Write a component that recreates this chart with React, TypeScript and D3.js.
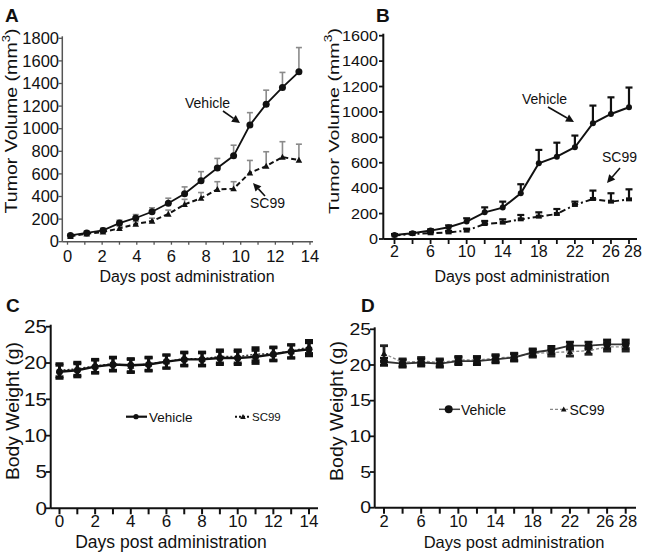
import React from "react";
import * as d3 from "d3";

// ---------- DATA ----------
// Panel A: tumor volume (mm^3), days 0-14
const daysA = [0.17, 1.11, 2.05, 3.0, 3.94, 4.88, 5.82, 6.76, 7.71, 8.65, 9.59, 10.53, 11.47, 12.41, 13.36];
const vehicleA = [55, 78, 100, 165, 210, 265, 340, 425, 540, 652, 760, 1032, 1217, 1365, 1503];
const vehicleAErr = [15, 18, 20, 25, 30, 35, 45, 60, 80, 85, 94, 110, 124, 133, 215];
const sc99A = [48, 70, 86, 118, 156, 183, 245, 330, 385, 463, 469, 610, 669, 749, 722];
const sc99AErr = [10, 12, 15, 20, 22, 25, 35, 45, 50, 68, 62, 109, 127, 136, 141];
const xTicksA = [0, 2, 4, 6, 8, 10, 12, 14];
const yTicksA = [0, 200, 400, 600, 800, 1000, 1200, 1400, 1600, 1800];

// Panel B: tumor volume (mm^3), days 2-28
const daysB = [2, 4, 6, 8, 10, 12, 14, 16, 18, 20, 22, 24, 26, 28];
const vehicleB = [31, 45, 66, 92, 137, 210, 247, 360, 596, 648, 722, 911, 984, 1037];
const vehicleBErr = [8, 8, 10, 15, 26, 39, 47, 71, 105, 110, 92, 139, 131, 155];
const sc99B = [28, 40, 45, 52, 66, 118, 129, 155, 176, 197, 268, 315, 294, 312];
const sc99BErr = [8, 8, 10, 12, 15, 24, 26, 34, 34, 39, 26, 66, 66, 79];
const xTicksB = [2, 6, 10, 14, 18, 22, 26, 28];
const xMinorB = [2, 4, 6, 8, 10, 12, 14, 16, 18, 20, 22, 24, 26, 28];
const yTicksB = [0, 200, 400, 600, 800, 1000, 1200, 1400, 1600];

// Panel C: body weight (g), days 0-14
const daysC = [0, 1, 2, 3, 4, 5, 6, 7, 8, 9, 10, 11, 12, 13, 14];
const vehicleC = [18.8, 19.0, 19.5, 19.8, 19.7, 19.8, 20.2, 20.5, 20.5, 20.7, 20.7, 20.85, 21.2, 21.6, 21.9];
const vehicleCErr = [0.9, 0.9, 0.9, 0.9, 0.9, 0.9, 0.9, 0.9, 0.9, 0.9, 0.9, 0.9, 0.9, 0.9, 0.9];
const sc99C = [19.0, 19.2, 19.6, 19.9, 19.6, 19.9, 20.2, 20.6, 20.6, 20.9, 20.9, 21.2, 21.3, 21.6, 22.2];
const sc99CErr = [0.9, 0.9, 0.9, 0.9, 0.9, 0.9, 0.9, 0.9, 0.9, 0.9, 0.9, 0.9, 0.9, 0.9, 0.9];
const xTicksC = [0, 2, 4, 6, 8, 10, 12, 14];
const yTicksW = [0, 5, 10, 15, 20, 25];

// Panel D: body weight (g), days 2-28
const daysD = [2, 4, 6, 8, 10, 12, 14, 16, 18, 20, 22, 24, 26, 28];
const vehicleD = [20.45, 20.2, 20.35, 20.2, 20.55, 20.55, 20.8, 21.05, 21.75, 22.1, 22.7, 22.7, 22.9, 22.9];
const vehicleDErr = [0.5, 0.5, 0.5, 0.5, 0.5, 0.5, 0.5, 0.5, 0.5, 0.5, 0.5, 0.5, 0.6, 0.6];
const sc99D = [21.6, 20.35, 20.55, 20.35, 20.7, 20.7, 20.95, 21.15, 21.6, 21.75, 21.85, 22.0, 22.55, 22.55];
const sc99DErr = [1.1, 0.5, 0.5, 0.5, 0.5, 0.5, 0.5, 0.5, 0.5, 0.5, 0.6, 0.5, 0.6, 0.6];
const xTicksD = [2, 6, 10, 14, 18, 22, 26, 28];

const FONT = "'Liberation Sans', Arial, Helvetica, sans-serif";

// ---------- SCALES ----------
const xA = d3.scaleLinear().domain([0, 14]).range([67.5, 310]);
const yA = d3.scaleLinear().domain([0, 1800]).range([241.7, 38.3]);
const xB = d3.scaleLinear().domain([2, 28]).range([394.5, 629]);
const yB = d3.scaleLinear().domain([0, 1600]).range([239, 35.7]);
const xC = d3.scaleLinear().domain([0, 14]).range([59.5, 309]);
const yC = d3.scaleLinear().domain([0, 25]).range([508.3, 326.7]);
const xD = d3.scaleLinear().domain([2, 28]).range([384, 625.7]);
const yD = d3.scaleLinear().domain([0, 25]).range([507.7, 329.3]);

type Sc = d3.ScaleLinear<number, number>;

function linePath(xs: number[], ys: number[], x: Sc, y: Sc) {
  const gen = d3.line<number>().x((_, i) => x(xs[i])).y((d) => y(d));
  return gen(ys) || "";
}

function tri(cx: number, cy: number, s: number) {
  return `M${cx},${cy - s}L${cx + s},${cy + s * 0.8}L${cx - s},${cy + s * 0.8}Z`;
}

function ErrBars(props: {
  xs: number[]; ys: number[]; err: number[]; x: Sc; y: Sc; color: string; w: number; cap: number; both?: boolean;
}) {
  const { xs, ys, err, x, y, color, w, cap, both } = props;
  return (
    <g stroke={color} strokeWidth={w} fill="none">
      {ys.map((v, i) => {
        const cx = x(xs[i]);
        const top = y(v + err[i]);
        const bot = both ? y(v - err[i]) : y(v);
        return (
          <g key={i}>
            <line x1={cx} x2={cx} y1={top} y2={bot} />
            <line x1={cx - cap} x2={cx + cap} y1={top} y2={top} />
            {both ? <line x1={cx - cap} x2={cx + cap} y1={bot} y2={bot} /> : null}
          </g>
        );
      })}
    </g>
  );
}

function Arrow(props: { x1: number; y1: number; x2: number; y2: number }) {
  const { x1, y1, x2, y2 } = props;
  const ang = Math.atan2(y2 - y1, x2 - x1);
  const L = 8, W = 4;
  const bx = x2 - L * Math.cos(ang), by = y2 - L * Math.sin(ang);
  const p1 = [bx + W * Math.sin(ang), by - W * Math.cos(ang)];
  const p2 = [bx - W * Math.sin(ang), by + W * Math.cos(ang)];
  return (
    <g>
      <line x1={x1} y1={y1} x2={bx} y2={by} stroke="#111" strokeWidth={1.6} />
      <path d={`M${x2},${y2}L${p1[0]},${p1[1]}L${p2[0]},${p2[1]}Z`} fill="#111" />
    </g>
  );
}

export default function App() {
  return (
    <svg
      width={648}
      height={559}
      viewBox="0 0 648 559"
      style={{ position: "absolute", left: 0, top: 0, background: "#fff" }}
      fontFamily={FONT}
    >
      <rect x={0} y={0} width={648} height={559} fill="#fff" />

      {/* ================= PANEL A ================= */}
      <g>
        <text x={5} y={22} fontSize={19} fontWeight="bold" fill="#111">A</text>
        <line x1={62.3} x2={62.3} y1={yA(1800) - 2} y2={yA(0)} stroke="#555" strokeWidth={1.5} />
        <line x1={62.3} x2={313} y1={yA(0)} y2={yA(0)} stroke="#555" strokeWidth={1.5} />
        {yTicksA.map((t) => (
          <g key={t}>
            <line x1={58.5} x2={62.3} y1={yA(t)} y2={yA(t)} stroke="#555" strokeWidth={1.3} />
            <text x={59} y={yA(t)} dy="0.35em" textAnchor="end" fontSize={16.5} fill="#111">{t}</text>
          </g>
        ))}
        {d3.range(0, 15).map((t) => (
          <line key={t} x1={xA(t)} x2={xA(t)} y1={yA(0)} y2={yA(0) + 3} stroke="#555" strokeWidth={1.3} />
        ))}
        {xTicksA.map((t) => (
          <text key={t} x={xA(t)} y={262} textAnchor="middle" fontSize={16.5} fill="#111">{t}</text>
        ))}
        <text x={187} y={281.5} textAnchor="middle" fontSize={16} fill="#111">Days post administration</text>
        <text
          transform={`translate(17,${121}) rotate(-90)`}
          textAnchor="middle"
          fontSize={16.5}
          fill="#111"
          textLength={185}
          lengthAdjust="spacingAndGlyphs"
        >
          Tumor Volume (mm<tspan fontSize={11} dy={-7}>3</tspan><tspan dy={7}>)</tspan>
        </text>

        <ErrBars xs={daysA} ys={vehicleA} err={vehicleAErr} x={xA} y={yA} color="#8a8a8a" w={1.6} cap={3} />
        <ErrBars xs={daysA} ys={sc99A} err={sc99AErr} x={xA} y={yA} color="#8a8a8a" w={1.6} cap={3} />
        <path d={linePath(daysA, sc99A, xA, yA)} fill="none" stroke="#111" strokeWidth={2} strokeDasharray="5,3" />
        <path d={linePath(daysA, vehicleA, xA, yA)} fill="none" stroke="#111" strokeWidth={1.8} />
        {sc99A.map((v, i) => (
          <path key={i} d={tri(xA(daysA[i]), yA(v), 3.3)} fill="#111" />
        ))}
        {vehicleA.map((v, i) => (
          <circle key={i} cx={xA(daysA[i])} cy={yA(v)} r={3.5} fill="#111" />
        ))}
        <text x={185} y={108} fontSize={14} fill="#111">Vehicle</text>
        <Arrow x1={223} y1={111} x2={240} y2={123} />
        <text x={250} y={208} fontSize={14} fill="#111">SC99</text>
        <Arrow x1={265} y1={196} x2={253} y2={183} />
      </g>

      {/* ================= PANEL B ================= */}
      <g>
        <text x={376} y={22} fontSize={19} fontWeight="bold" fill="#111">B</text>
        <line x1={383.3} x2={383.3} y1={yB(1600) - 2} y2={yB(0)} stroke="#111" strokeWidth={2} />
        <line x1={383.3} x2={637} y1={yB(0)} y2={yB(0)} stroke="#111" strokeWidth={2} />
        {yTicksB.map((t) => (
          <g key={t}>
            <line x1={379} x2={383.3} y1={yB(t)} y2={yB(t)} stroke="#111" strokeWidth={1.8} />
            <text
              x={378}
              y={yB(t)}
              dy="0.35em"
              textAnchor="end"
              fontSize={15}
              fill="#111"
              textLength={String(t).length * 9}
              lengthAdjust="spacingAndGlyphs"
            >
              {t}
            </text>
          </g>
        ))}
        {xMinorB.map((t) => (
          <line key={t} x1={xB(t)} x2={xB(t)} y1={yB(0)} y2={yB(0) + 5} stroke="#111" strokeWidth={1.8} />
        ))}
        {xTicksB.map((t, i) => {
          const last = i === xTicksB.length - 1;
          return (
            <text
              key={t}
              x={last ? xB(t) - 5 : xB(t)}
              y={257}
              textAnchor={last ? "start" : "middle"}
              fontSize={16}
              fill="#111"
            >
              {t}
            </text>
          );
        })}
        <text x={522} y={281.5} textAnchor="middle" fontSize={16} fill="#111">Days post administration</text>
        <text
          transform={`translate(338.5,${121}) rotate(-90)`}
          textAnchor="middle"
          fontSize={15.5}
          fill="#111"
          textLength={186}
          lengthAdjust="spacingAndGlyphs"
        >
          Tumor Volume (mm<tspan fontSize={11} dy={-7}>3</tspan><tspan dy={7}>)</tspan>
        </text>

        <ErrBars xs={daysB} ys={vehicleB} err={vehicleBErr} x={xB} y={yB} color="#111" w={2.2} cap={3.5} />
        <ErrBars xs={daysB} ys={sc99B} err={sc99BErr} x={xB} y={yB} color="#111" w={2.2} cap={3.5} />
        <path d={linePath(daysB, sc99B, xB, yB)} fill="none" stroke="#111" strokeWidth={2} strokeDasharray="6,3,2,3" />
        <path d={linePath(daysB, vehicleB, xB, yB)} fill="none" stroke="#111" strokeWidth={2} />
        {sc99B.map((v, i) => (
          <rect key={i} x={xB(daysB[i]) - 3} y={yB(v) - 2} width={6} height={4} fill="#111" />
        ))}
        {vehicleB.map((v, i) => (
          <circle key={i} cx={xB(daysB[i])} cy={yB(v)} r={3} fill="#111" />
        ))}
        <text x={522} y={104} fontSize={14} fill="#111">Vehicle</text>
        <Arrow x1={548} y1={107} x2={574} y2={122} />
        <text x={602} y={162} fontSize={14} fill="#111">SC99</text>
        <Arrow x1={620} y1={168} x2={607} y2={183} />
      </g>

      {/* ================= PANEL C ================= */}
      <g>
        <text x={6} y={312} fontSize={19} fontWeight="bold" fill="#111">C</text>
        <line x1={50.7} x2={50.7} y1={yC(25) - 2} y2={yC(0)} stroke="#111" strokeWidth={2} />
        <line x1={50.7} x2={318} y1={yC(0)} y2={yC(0)} stroke="#111" strokeWidth={2} />
        {yTicksW.map((t) => (
          <g key={t}>
            <line x1={46} x2={50.7} y1={yC(t)} y2={yC(t)} stroke="#111" strokeWidth={1.8} />
            <text
              x={47}
              y={yC(t)}
              dy="0.35em"
              textAnchor="end"
              fontSize={18}
              fill="#111"
              textLength={String(t).length * 11.5}
              lengthAdjust="spacingAndGlyphs"
            >
              {t}
            </text>
          </g>
        ))}
        {d3.range(0, 15).map((t) => (
          <line key={t} x1={xC(t)} x2={xC(t)} y1={yC(0)} y2={yC(0) + 6} stroke="#111" strokeWidth={2} />
        ))}
        {xTicksC.map((t) => (
          <text key={t} x={xC(t)} y={527} textAnchor="middle" fontSize={17} fill="#111">{t}</text>
        ))}
        <text x={171} y={547.5} textAnchor="middle" fontSize={17.5} fill="#111">Days post administration</text>
        <text
          transform={`translate(19,${411}) rotate(-90)`}
          textAnchor="middle"
          fontSize={18.5}
          fill="#111"
          textLength={138}
          lengthAdjust="spacingAndGlyphs"
        >
          Body Weight (g)
        </text>

        <ErrBars xs={daysC} ys={sc99C} err={sc99CErr} x={xC} y={yC} color="#111" w={3} cap={4} both />
        <ErrBars xs={daysC} ys={vehicleC} err={vehicleCErr} x={xC} y={yC} color="#111" w={3} cap={4} both />
        <path d={linePath(daysC, sc99C, xC, yC)} fill="none" stroke="#333" strokeWidth={1.5} strokeDasharray="2,2" />
        <path d={linePath(daysC, vehicleC, xC, yC)} fill="none" stroke="#111" strokeWidth={2.4} />
        {sc99C.map((v, i) => (
          <path key={i} d={tri(xC(daysC[i]), yC(v), 3.5)} fill="#111" />
        ))}
        {vehicleC.map((v, i) => (
          <circle key={i} cx={xC(daysC[i])} cy={yC(v)} r={3.5} fill="#111" />
        ))}
        <line x1={126} x2={147} y1={416.7} y2={416.7} stroke="#111" strokeWidth={2.2} />
        <circle cx={136} cy={416.7} r={2.6} fill="#111" />
        <text x={149} y={422} fontSize={13.5} fill="#111">Vehicle</text>
        <line x1={235} x2={251} y1={416.7} y2={416.7} stroke="#111" strokeWidth={2} strokeDasharray="2,2" />
        <path d={tri(243, 416.7, 2.8)} fill="#111" />
        <text x={252} y={421} fontSize={11.5} fill="#111">SC99</text>
      </g>

      {/* ================= PANEL D ================= */}
      <g>
        <text x={361} y={312} fontSize={19} fontWeight="bold" fill="#111">D</text>
        <line x1={374.7} x2={374.7} y1={yD(25) - 2} y2={yD(0)} stroke="#111" strokeWidth={2} />
        <line x1={374.7} x2={636} y1={yD(0)} y2={yD(0)} stroke="#111" strokeWidth={2} />
        {yTicksW.map((t) => (
          <g key={t}>
            <line x1={370} x2={374.7} y1={yD(t)} y2={yD(t)} stroke="#111" strokeWidth={1.8} />
            <text
              x={371}
              y={yD(t)}
              dy="0.35em"
              textAnchor="end"
              fontSize={16.5}
              fill="#111"
              textLength={String(t).length * 10.8}
              lengthAdjust="spacingAndGlyphs"
            >
              {t}
            </text>
          </g>
        ))}
        {daysD.map((t) => (
          <line key={t} x1={xD(t)} x2={xD(t)} y1={yD(0)} y2={yD(0) + 6} stroke="#111" strokeWidth={2} />
        ))}
        {xTicksD.map((t, i) => {
          const last = i === xTicksD.length - 1;
          const prev = i === xTicksD.length - 2;
          return (
            <text
              key={t}
              x={last ? xD(t) - 7 : prev ? xD(t) - 2 : xD(t)}
              y={527}
              textAnchor={last ? "start" : "middle"}
              fontSize={16}
              fill="#111"
              textLength={String(t).length * 9.2}
              lengthAdjust="spacingAndGlyphs"
            >
              {t}
            </text>
          );
        })}
        <text x={514} y={547.5} textAnchor="middle" fontSize={16.5} fill="#111">Days post administration</text>
        <text
          transform={`translate(343,${411}) rotate(-90)`}
          textAnchor="middle"
          fontSize={18}
          fill="#111"
          textLength={140}
          lengthAdjust="spacingAndGlyphs"
        >
          Body Weight (g)
        </text>

        <ErrBars xs={daysD} ys={sc99D} err={sc99DErr} x={xD} y={yD} color="#222" w={2.8} cap={4} both />
        <ErrBars xs={daysD} ys={vehicleD} err={vehicleDErr} x={xD} y={yD} color="#111" w={2.8} cap={4} both />
        <path d={linePath(daysD, sc99D, xD, yD)} fill="none" stroke="#888" strokeWidth={1.3} strokeDasharray="3,2" />
        <path d={linePath(daysD, vehicleD, xD, yD)} fill="none" stroke="#333" strokeWidth={1.8} />
        {sc99D.map((v, i) => (
          <path key={i} d={tri(xD(daysD[i]), yD(v), 3.2)} fill="#111" />
        ))}
        {vehicleD.map((v, i) => (
          <circle key={i} cx={xD(daysD[i])} cy={yD(v)} r={3.8} fill="#111" />
        ))}
        <line x1={439} x2={460} y1={409.3} y2={409.3} stroke="#444" strokeWidth={1.5} />
        <circle cx={448.7} cy={409.3} r={4} fill="#111" />
        <text x={461} y={414.5} fontSize={14} fill="#111">Vehicle</text>
        <line x1={550} x2={569} y1={409.3} y2={409.3} stroke="#888" strokeWidth={1.3} strokeDasharray="3,2" />
        <path d={tri(563.7, 409.3, 2.8)} fill="#111" />
        <text x={569.5} y={414.5} fontSize={14} fill="#111">SC99</text>
      </g>
</svg>
  );
}
